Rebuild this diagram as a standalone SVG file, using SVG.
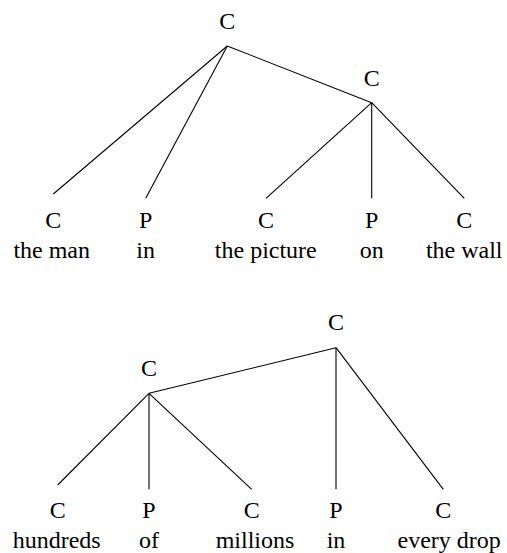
<svg xmlns="http://www.w3.org/2000/svg" width="507" height="553" viewBox="0 0 507 553">
  <style>
    .lbl { font-family: 'Liberation Serif', 'Times New Roman', 'DejaVu Serif', serif; font-size: 24px; fill: #000; text-anchor: middle; }
    .edge { stroke: #000; stroke-width: 1.1; fill: none; }
  </style>
  <rect width="507" height="553" fill="#fff"/>

  <!-- connectors -->
  <g id="connectors">
    <!-- upper tree -->
    <line class="edge" x1="227.3" y1="46" x2="53.3" y2="194"/>
    <line class="edge" x1="227.3" y1="46" x2="145.7" y2="198.3"/>
    <line class="edge" x1="227.3" y1="46" x2="371.7" y2="102.7"/>
    <line class="edge" x1="371.7" y1="102.7" x2="266" y2="198.3"/>
    <line class="edge" x1="371.7" y1="102.7" x2="371.7" y2="198.3"/>
    <line class="edge" x1="371.7" y1="102.7" x2="464.3" y2="198.3"/>
    <!-- lower tree -->
    <line class="edge" x1="336" y1="347.7" x2="149" y2="393.3"/>
    <line class="edge" x1="336" y1="347.7" x2="336" y2="489.3"/>
    <line class="edge" x1="336" y1="347.7" x2="443.3" y2="489.3"/>
    <line class="edge" x1="149" y1="393.3" x2="57.7" y2="485"/>
    <line class="edge" x1="149" y1="393.3" x2="149" y2="489.3"/>
    <line class="edge" x1="149" y1="393.3" x2="251.7" y2="489.3"/>
  </g>

  <g class="lbl" font-family="Liberation Serif, Times New Roman, serif">
    <!-- upper tree nodes -->
    <g id="t1-root"><text x="227.3" y="29.3">C</text></g>
    <g id="t1-right"><text x="371.7" y="85.7">C</text></g>
    <g id="t1-leaf1"><text x="53.3" y="228.3">C</text><text x="51.7" y="258.3">the man</text></g>
    <g id="t1-leaf2"><text x="145.7" y="228.3">P</text><text x="145.7" y="258.3">in</text></g>
    <g id="t1-leaf3"><text x="266" y="228.3">C</text><text x="265.8" y="258.3">the picture</text></g>
    <g id="t1-leaf4"><text x="371.7" y="228.3">P</text><text x="371.7" y="258.3">on</text></g>
    <g id="t1-leaf5"><text x="464.3" y="228.3">C</text><text x="464.2" y="258.3">the wall</text></g>

    <!-- lower tree nodes -->
    <g id="t2-root"><text x="336" y="330">C</text></g>
    <g id="t2-left"><text x="149" y="376">C</text></g>
    <g id="t2-leaf1"><text x="57.7" y="518.3">C</text><text x="56.7" y="548.3">hundreds</text></g>
    <g id="t2-leaf2"><text x="149" y="518.3">P</text><text x="149" y="548.3">of</text></g>
    <g id="t2-leaf3"><text x="251.7" y="518.3">C</text><text x="255" y="548.3">millions</text></g>
    <g id="t2-leaf4"><text x="336" y="518.3">P</text><text x="336" y="548.3">in</text></g>
    <g id="t2-leaf5"><text x="443.3" y="518.3">C</text><text x="449.2" y="548.3">every drop</text></g>
  </g>
</svg>
